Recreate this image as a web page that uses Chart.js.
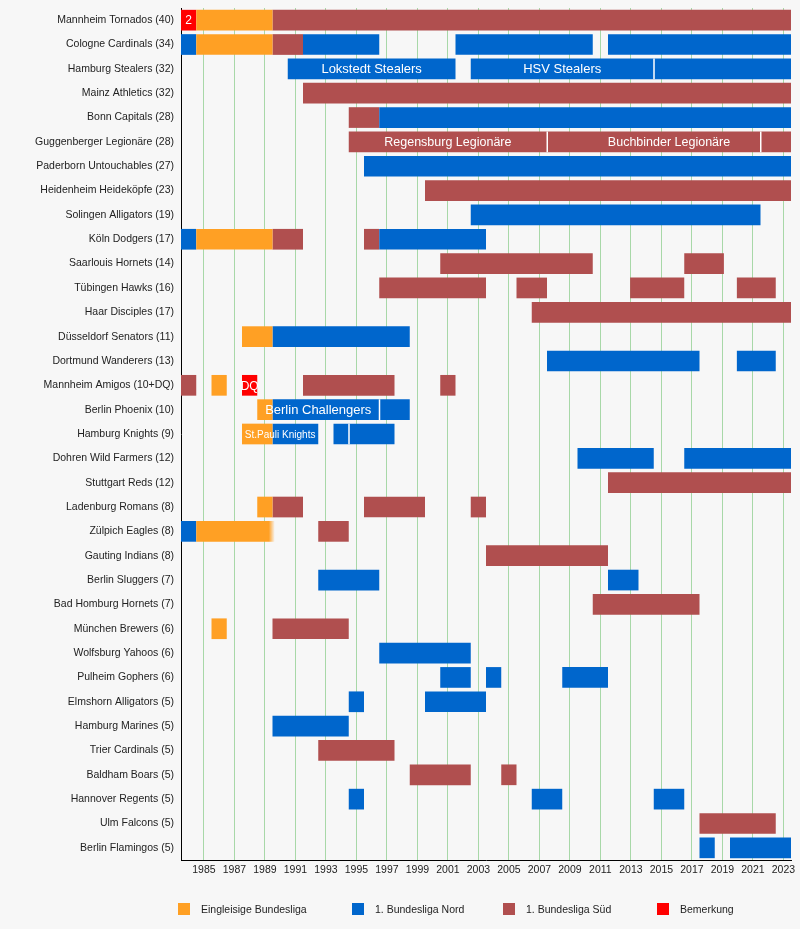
<!DOCTYPE html>
<html>
<head>
<meta charset="utf-8">
<script src="https://cdn.jsdelivr.net/npm/chart.js@4/dist/chart.umd.min.js"></script>
<style>
  html, body { margin: 0; padding: 0; background: #f7f7f7; }
  #box { position: relative; width: 800px; height: 929px; }
  #legende { position: absolute; left: 0; top: 902px; width: 800px; height: 14px;
    font: 10.5px "Liberation Sans", Arial, sans-serif; color: #222; }
  #legende .eintrag { position: absolute; top: 0; white-space: nowrap; line-height: 14px; }
  #legende .kasten { display: inline-block; width: 12px; height: 12px; vertical-align: top; margin: 1px 11px 0 0; }
</style>
</head>
<body>
<div id="box"><canvas id="zeitleiste"></canvas><div id="legende"></div></div>
<script>
// Vereine (Reihenfolge von oben nach unten) und Anzahl Saisons
var vereine = ['Mannheim Tornados','Cologne Cardinals','Hamburg Stealers','Mainz Athletics','Bonn Capitals',
  'Guggenberger Legionäre','Paderborn Untouchables','Heidenheim Heideköpfe','Solingen Alligators','Köln Dodgers',
  'Saarlouis Hornets','Tübingen Hawks','Haar Disciples','Düsseldorf Senators','Dortmund Wanderers',
  'Mannheim Amigos','Berlin Phoenix','Hamburg Knights','Dohren Wild Farmers','Stuttgart Reds',
  'Ladenburg Romans','Zülpich Eagles','Gauting Indians','Berlin Sluggers','Bad Homburg Hornets',
  'München Brewers','Wolfsburg Yahoos','Pulheim Gophers','Elmshorn Alligators','Hamburg Marines',
  'Trier Cardinals','Baldham Boars','Hannover Regents','Ulm Falcons','Berlin Flamingos'];
var saisons = ['40','34','32','32','28','28','27','23','19','17','14','16','17','11','13','10+DQ','10','9',
  '12','12','8','8','8','7','7','6','6','6','5','5','5','5','5','5','5'];

// Jahresspannen [von, bis] (Saison X reicht von X-0.5 bis X+0.5)
var eingleisig = {
  'Mannheim Tornados': [[1984.5,1989.5]],
  'Cologne Cardinals': [[1984.5,1989.5]],
  'Köln Dodgers': [[1984.5,1989.5]],
  'Düsseldorf Senators': [[1987.5,1989.5]],
  'Mannheim Amigos': [[1985.5,1986.5]],
  'Berlin Phoenix': [[1988.5,1989.5]],
  'Hamburg Knights': [[1987.5,1989.5]],
  'Ladenburg Romans': [[1988.5,1989.5]],
  'Zülpich Eagles': [[1984.5,1989.65]],
  'München Brewers': [[1985.5,1986.5]]
};
var nord = {
  'Cologne Cardinals': [[1983.5,1984.5],[1991.5,1996.5],[2001.5,2010.5],[2011.5,2023.5]],
  'Hamburg Stealers': [[1990.5,2001.5],[2002.5,2023.5]],
  'Bonn Capitals': [[1996.5,2023.5]],
  'Paderborn Untouchables': [[1995.5,2023.5]],
  'Solingen Alligators': [[2002.5,2021.5]],
  'Köln Dodgers': [[1983.5,1984.5],[1996.5,2003.5]],
  'Düsseldorf Senators': [[1989.5,1998.5]],
  'Dortmund Wanderers': [[2007.5,2017.5],[2019.95,2022.5]],
  'Berlin Phoenix': [[1989.5,1998.5]],
  'Hamburg Knights': [[1989.5,1992.5],[1993.5,1997.5]],
  'Dohren Wild Farmers': [[2009.5,2014.5],[2016.5,2023.5]],
  'Zülpich Eagles': [[1983.5,1984.5]],
  'Berlin Sluggers': [[1992.5,1996.5],[2011.5,2013.5]],
  'Wolfsburg Yahoos': [[1996.5,2002.5]],
  'Pulheim Gophers': [[2000.5,2002.5],[2003.5,2004.5],[2008.5,2011.5]],
  'Elmshorn Alligators': [[1994.5,1995.5],[1999.5,2003.5]],
  'Hamburg Marines': [[1989.5,1994.5]],
  'Hannover Regents': [[1994.5,1995.5],[2006.5,2008.5],[2014.5,2016.5]],
  'Berlin Flamingos': [[2017.5,2018.5],[2019.5,2023.5]]
};
var sued = {
  'Mannheim Tornados': [[1989.5,2023.5]],
  'Cologne Cardinals': [[1989.5,1991.5]],
  'Mainz Athletics': [[1991.5,2023.5]],
  'Bonn Capitals': [[1994.5,1996.5]],
  'Guggenberger Legionäre': [[1994.5,2023.5]],
  'Heidenheim Heideköpfe': [[1999.5,2023.5]],
  'Köln Dodgers': [[1989.5,1991.5],[1995.5,1996.5]],
  'Saarlouis Hornets': [[2000.5,2010.5],[2016.5,2019.1]],
  'Tübingen Hawks': [[1996.5,2003.5],[2005.5,2007.5],[2012.95,2016.5],[2019.95,2022.5]],
  'Haar Disciples': [[2006.5,2023.5]],
  'Mannheim Amigos': [[1983.5,1984.5],[1991.5,1997.5],[2000.5,2001.5]],
  'Stuttgart Reds': [[2011.5,2023.5]],
  'Ladenburg Romans': [[1989.5,1991.5],[1995.5,1999.5],[2002.5,2003.5]],
  'Zülpich Eagles': [[1992.5,1994.5]],
  'Gauting Indians': [[2003.5,2011.5]],
  'Bad Homburg Hornets': [[2010.5,2017.5]],
  'München Brewers': [[1989.5,1994.5]],
  'Trier Cardinals': [[1992.5,1997.5]],
  'Baldham Boars': [[1998.5,2002.5],[2004.5,2005.5]],
  'Ulm Falcons': [[2017.5,2022.5]]
};
var bemerkung = {
  'Mannheim Tornados': [[1983.5,1984.5]],
  'Mannheim Amigos': [[1987.5,1988.5]]
};
// Eingleisige Balken, die am Ende auslaufen
var auslaufend = ['Zülpich Eagles'];

// Trennstriche innerhalb eines Balkens
var trenner = [['Hamburg Stealers',2014.5],['Guggenberger Legionäre',2007.5],['Guggenberger Legionäre',2021.5],
  ['Berlin Phoenix',1996.5],['Hamburg Knights',1994.5]];
// Beschriftungen in den Balken: [Verein, von, bis, Text, Schriftgröße]
var beschriftung = [
  ['Mannheim Tornados',1983.5,1984.5,'2',12],
  ['Hamburg Stealers',1990.5,2001.5,'Lokstedt Stealers',13],
  ['Hamburg Stealers',2002.5,2014.5,'HSV Stealers',13],
  ['Guggenberger Legionäre',1994.5,2007.5,'Regensburg Legionäre',12.5],
  ['Guggenberger Legionäre',2007.5,2023.5,'Buchbinder Legionäre',12.5],
  ['Mannheim Amigos',1987.5,1988.5,'DQ',12],
  ['Berlin Phoenix',1988.5,1996.5,'Berlin Challengers',13],
  ['Hamburg Knights',1987.5,1992.5,'St.Pauli Knights',10]
];

var jahre = [1985,1987,1989,1991,1993,1995,1997,1999,2001,2003,2005,2007,2009,2011,2013,2015,2017,2019,2021,2023];
var legendeText = ['Eingleisige Bundesliga','1. Bundesliga Nord','1. Bundesliga Süd','Bemerkung'];
var farben = ['#ffa024','#0066cc','#b04f4f','#ff0000'];
var legendeLinks = [178, 352, 503, 657];

var schrift = 'Liberation Sans, Arial, sans-serif';

function fuellung(farbe, verlauf){
  if (!verlauf) return farbe;
  return function(c){
    var seg = c.raw;
    if (!seg || auslaufend.indexOf(vereine[c.dataIndex]) < 0 || !c.chart.scales.x) return farbe;
    var x1 = c.chart.scales.x.getPixelForValue(seg[1]);
    var g = c.chart.ctx.createLinearGradient(x1 - 6, 0, x1, 0);
    g.addColorStop(0, farbe);
    g.addColorStop(1, 'rgba(255,160,36,0)');
    return g;
  };
}

function baueDatensaetze(segs, farbe, name, verlauf){
  var max = 0;
  for (var v in segs) { if (segs[v].length > max) max = segs[v].length; }
  var sets = [];
  for (let k = 0; k < max; k++) {
    sets.push({
      label: name,
      data: vereine.map(function(v){ return segs[v] && segs[v][k] ? segs[v][k] : null; }),
      backgroundColor: fuellung(farbe, verlauf),
      borderWidth: 0,
      grouped: false,
      barPercentage: 0.85,
      categoryPercentage: 1
    });
  }
  return sets;
}

var datensaetze = [].concat(
  baueDatensaetze(eingleisig, farben[0], legendeText[0], true),
  baueDatensaetze(nord, farben[1], legendeText[1]),
  baueDatensaetze(sued, farben[2], legendeText[2]),
  baueDatensaetze(bemerkung, farben[3], legendeText[3])
);

var balkenText = {
  id: 'balkenText',
  afterDatasetsDraw: function(chart){
    var ctx = chart.ctx, x = chart.scales.x, y = chart.scales.y;
    var band = (y.bottom - y.top) / vereine.length;
    var dicke = band * 0.85;
    ctx.save();
    trenner.forEach(function(t){
      var yc = y.getPixelForValue(vereine.indexOf(t[0]));
      var xp = x.getPixelForValue(t[1]);
      ctx.fillStyle = '#ffffff';
      ctx.fillRect(xp - 0.5, yc - dicke/2, 1.5, dicke);
    });
    ctx.fillStyle = '#ffffff';
    ctx.textAlign = 'center';
    ctx.textBaseline = 'middle';
    beschriftung.forEach(function(b){
      var yc = y.getPixelForValue(vereine.indexOf(b[0]));
      var xm = (x.getPixelForValue(b[1]) + x.getPixelForValue(b[2])) / 2;
      ctx.font = b[4] + 'px ' + schrift;
      ctx.fillText(b[3], xm, yc + 1);
    });
    ctx.restore();
  }
};

new Chart(document.getElementById('zeitleiste'), {
  type: 'bar',
  data: {
    labels: vereine.map(function(v, i){ return v + ' (' + saisons[i] + ')'; }),
    datasets: datensaetze
  },
  options: {
    indexAxis: 'y',
    responsive: true,
    maintainAspectRatio: false,
    animation: false,
    layout: { padding: { top: 8, right: 9, left: 0, bottom: 49 } },
    scales: {
      x: {
        type: 'linear',
        min: 1983.5,
        max: 2023.5,
        afterBuildTicks: function(scale){ scale.ticks = jahre.map(function(j){ return { value: j }; }); },
        afterFit: function(scale){ scale.height = 20; },
        ticks: {
          color: '#222',
          font: { family: schrift, size: 10.5 },
          padding: 4,
          maxRotation: 0,
          autoSkip: false,
          callback: function(v){ return String(v); }
        },
        grid: { color: '#a8d8a8', drawTicks: false, lineWidth: 1 },
        border: { color: '#000', width: 1 }
      },
      y: {
        type: 'category',
        afterFit: function(scale){ scale.width = 181; scale.paddingTop = 0; scale.paddingBottom = 0; },
        ticks: {
          color: '#222',
          font: { family: schrift, size: 10.5 },
          padding: 7,
          autoSkip: false
        },
        grid: { display: false, drawTicks: false },
        border: { color: '#000', width: 1 }
      }
    },
    plugins: {
      tooltip: { enabled: false },
      legend: { display: false }
    }
  },
  plugins: [balkenText]
});

// Legende unter dem Diagramm
var legende = document.getElementById('legende');
legendeText.forEach(function(t, i){
  var e = document.createElement('span');
  e.className = 'eintrag';
  e.style.left = legendeLinks[i] + 'px';
  var k = document.createElement('span');
  k.className = 'kasten';
  k.style.background = farben[i];
  e.appendChild(k);
  e.appendChild(document.createTextNode(t));
  legende.appendChild(e);
});
</script>
</body>
</html>
